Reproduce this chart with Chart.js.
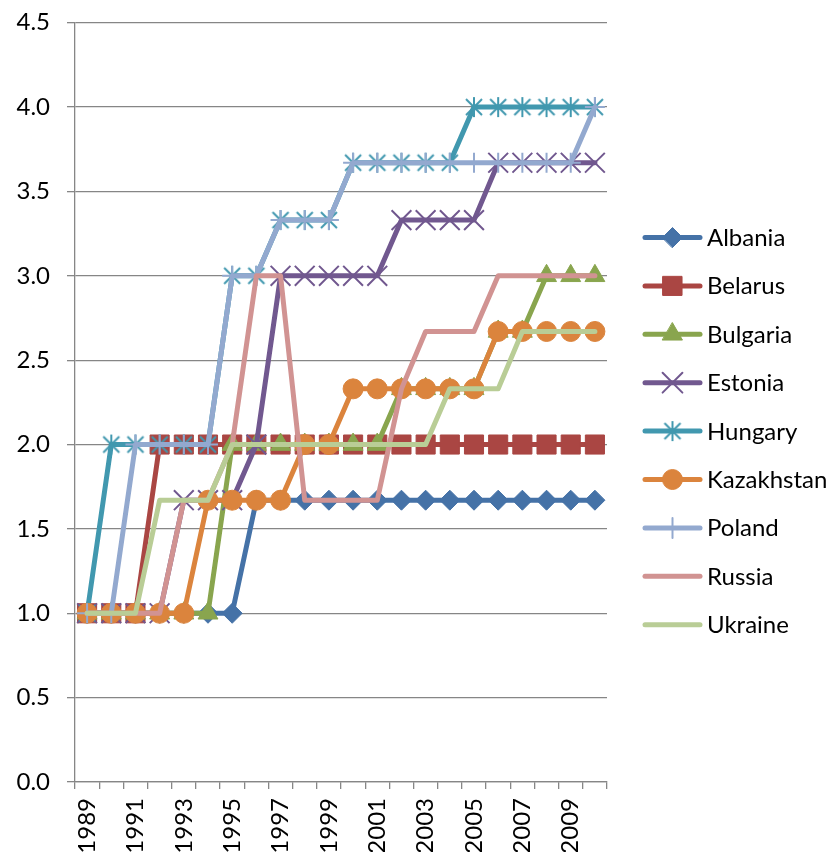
<!DOCTYPE html>
<html>
<head>
<meta charset="utf-8">
<script src="https://cdn.jsdelivr.net/npm/chart.js@4/dist/chart.umd.min.js"></script>
<style>
  html, body { margin: 0; padding: 0; background: #ffffff; }
  #wrap { width: 831px; height: 852px; position: relative; }
</style>
</head>
<body>
<div id="wrap"><canvas id="chart" width="831" height="852"></canvas></div>
<script>
// Years on the category axis
const years = ['1989','1990','1991','1992','1993','1994','1995','1996','1997','1998','1999',
               '2000','2001','2002','2003','2004','2005','2006','2007','2008','2009','2010'];

// Index values per country, one per year
const albania    = [1,1,1,1,1,1,1,1.67,1.67,1.67,1.67,1.67,1.67,1.67,1.67,1.67,1.67,1.67,1.67,1.67,1.67,1.67];
const belarus    = [1,1,1,2,2,2,2,2,2,2,2,2,2,2,2,2,2,2,2,2,2,2];
const bulgaria   = [1,1,1,1,1,1,2,2,2,2,2,2,2,2.33,2.33,2.33,2.33,2.67,2.67,3,3,3];
const estonia    = [1,1,1,1,1.67,1.67,1.67,2,3,3,3,3,3,3.33,3.33,3.33,3.33,3.67,3.67,3.67,3.67,3.67];
const hungary    = [1,2,2,2,2,2,3,3,3.33,3.33,3.33,3.67,3.67,3.67,3.67,3.67,4,4,4,4,4,4];
const kazakhstan = [1,1,1,1,1,1.67,1.67,1.67,1.67,2,2,2.33,2.33,2.33,2.33,2.33,2.33,2.67,2.67,2.67,2.67,2.67];
const poland     = [1,1,2,2,2,2,3,3,3.33,3.33,3.33,3.67,3.67,3.67,3.67,3.67,3.67,3.67,3.67,3.67,3.67,4];
const russia     = [1,1,1,1,1.67,1.67,2,3,3,1.67,1.67,1.67,1.67,2.33,2.67,2.67,2.67,3,3,3,3,3];
const ukraine    = [1,1,1,1.67,1.67,1.67,2,2,2,2,2,2,2,2,2,2.33,2.33,2.33,2.67,2.67,2.67,2.67];

// Value-axis range and step
const yMin = 0, yMax = 4.5, yStep = 0.5;

const FONT = 'Lato, "Liberation Sans", sans-serif';
const FONT_SIZE = 24;
const GRID = '#868686';

// Asterisk marker: an X with a vertical stroke
function asterisk(color) {
  const c = document.createElement('canvas');
  c.width = 26; c.height = 26;
  const g = c.getContext('2d');
  g.strokeStyle = color;
  g.lineWidth = 2;
  g.lineCap = 'butt';
  const m = 13, d = 8, v = 10;
  g.beginPath();
  g.moveTo(m - d, m - d); g.lineTo(m + d, m + d);
  g.moveTo(m + d, m - d); g.lineTo(m - d, m + d);
  g.moveTo(m, m - v); g.lineTo(m, m + v);
  g.stroke();
  return c;
}

const series = [
  { label: 'Albania',    data: albania,    color: '#4572A7', style: 'rectRot',  r: 10,   bw: 1 },
  { label: 'Belarus',    data: belarus,    color: '#AA4643', style: 'rect',     r: 13.5, bw: 1 },
  { label: 'Bulgaria',   data: bulgaria,   color: '#89A54E', style: 'triangle', r: 11.5, bw: 1 },
  { label: 'Estonia',    data: estonia,    color: '#71588F', style: 'crossRot', r: 14,   bw: 2 },
  { label: 'Hungary',    data: hungary,    color: '#4198AF', style: null,       r: 13,   bw: 1 },
  { label: 'Kazakhstan', data: kazakhstan, color: '#DB843D', style: 'circle',   r: 10,   bw: 1 },
  { label: 'Poland',     data: poland,     color: '#93A9CF', style: 'cross',    r: 10,   bw: 2 },
  { label: 'Russia',     data: russia,     color: '#D19392', style: false,      r: 0,    bw: 0 },
  { label: 'Ukraine',    data: ukraine,    color: '#B9CD96', style: false,      r: 0,    bw: 0 }
];
series[4].style = asterisk(series[4].color);

const datasets = series.map((s, i) => ({
  label: s.label,
  data: s.data,
  borderColor: s.color,
  backgroundColor: s.color,
  borderWidth: 5,
  borderCapStyle: 'round',
  borderJoinStyle: 'round',
  tension: 0,
  pointStyle: s.style || 'circle',
  pointRadius: s.r,
  pointHoverRadius: s.r,
  pointBackgroundColor: s.color,
  pointBorderColor: s.color,
  pointBorderWidth: s.bw,
  order: series.length - 1 - i   // later series drawn on top
}));

// Legend at the right: line sample with marker, then the name
const sideLegend = {
  id: 'sideLegend',
  afterDraw(chart) {
    const ctx = chart.ctx;
    const x0 = 645, x1 = 700, tx = 707, top = 237.5, step = 48.4;
    ctx.save();
    series.forEach((s, i) => {
      const y = top + i * step;
      ctx.strokeStyle = s.color;
      ctx.lineWidth = 5;
      ctx.lineCap = 'round';
      ctx.beginPath();
      ctx.moveTo(x0, y); ctx.lineTo(x1, y);
      ctx.stroke();
      if (s.r > 0) {
        ctx.fillStyle = s.color;
        ctx.strokeStyle = s.color;
        ctx.lineWidth = s.bw;
        Chart.helpers.drawPoint(ctx, { pointStyle: s.style, radius: s.r, rotation: 0, borderWidth: s.bw }, (x0 + x1) / 2, y);
      }
      ctx.fillStyle = '#000000';
      ctx.font = FONT_SIZE + 'px ' + FONT;
      ctx.textAlign = 'left';
      ctx.textBaseline = 'alphabetic';
      ctx.fillText(s.label, tx, y + 0.358 * FONT_SIZE);
    });
    ctx.restore();
  }
};

new Chart(document.getElementById('chart'), {
  type: 'line',
  data: { labels: years, datasets },
  plugins: [sideLegend],
  options: {
    responsive: false,
    devicePixelRatio: 1,
    animation: false,
    events: [],
    layout: { padding: { top: 22.7, right: 224, bottom: 0, left: 0 } },
    plugins: { legend: { display: false }, tooltip: { enabled: false }, title: { display: false } },
    scales: {
      x: {
        type: 'category',
        offset: true,
        grid: { offset: true, drawOnChartArea: false, drawTicks: true, tickLength: 7, color: GRID, lineWidth: 1.3 },
        border: { color: GRID, width: 1.3 },
        ticks: {
          autoSkip: false, maxRotation: 90, minRotation: 90, padding: 9,
          color: '#000000', font: { family: FONT, size: FONT_SIZE },
          callback: (v, i) => (i % 2 === 0 ? years[i] : '')
        },
        afterFit: s => { s.height = 70; s.paddingLeft = 0; s.paddingRight = 0; }
      },
      y: {
        min: yMin, max: yMax,
        grid: { color: GRID, lineWidth: 1.3, tickLength: 8, drawTicks: true },
        border: { color: GRID, width: 1.3 },
        ticks: {
          stepSize: yStep, padding: 17, color: '#000000',
          font: { family: FONT, size: FONT_SIZE },
          callback: v => Number(v).toFixed(1)
        },
        afterFit: s => { s.width = 75; s.paddingTop = 0; s.paddingBottom = 0; }
      }
    }
  }
});
</script>
</body>
</html>
